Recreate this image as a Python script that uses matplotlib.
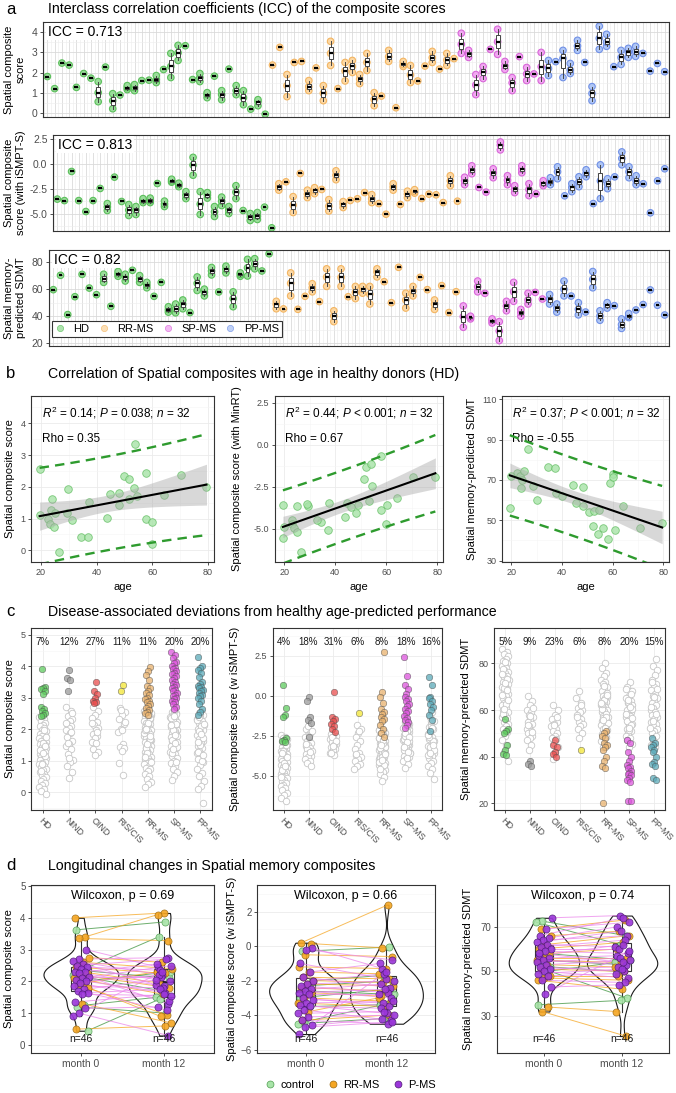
import numpy as np
import matplotlib
matplotlib.use("Agg")
import matplotlib.pyplot as plt
from matplotlib.ticker import MultipleLocator
from matplotlib.lines import Line2D
from matplotlib.transforms import blended_transform_factory

plt.rcParams['font.family'] = ['Liberation Sans', 'DejaVu Sans']
plt.rcParams['mathtext.fontset'] = 'custom'
plt.rcParams['mathtext.rm'] = 'Liberation Sans'
plt.rcParams['mathtext.it'] = 'Liberation Sans:italic'

# ======================= DATA =======================
# ---- panel a : repeated measurements per subject ([value] or [low, median, high])
a_groups = ['HD'] * 31 + ['RR-MS'] * 26 + ['SP-MS'] * 12 + ['PP-MS'] * 17
a_labels = ['HD', 'RR-MS', 'SP-MS', 'PP-MS']
a_icc = ['ICC = 0.713', 'ICC = 0.813', 'ICC = 0.82']
a_ylabels = ['Spatial composite\nscore', 'Spatial composite\nscore (with iSMPT-S)',
             'Spatial memory-\npredicted SDMT']
a1_scores = [[1.8], [1.2], [2.47], [2.37], [1.26], [1.95], [1.72], [0.55, 1.0, 1.55], [2.27],
             [0.2, 0.6, 0.95], [0.88], [1.15, 1.25, 1.35], [1.1, 1.25, 1.4], [1.6], [1.62],
             [1.5, 1.65, 1.85], [2.15], [1.75, 2.3, 2.95], [2.6, 2.98, 3.35], [3.33], [1.65],
             [1.55, 1.75, 1.95], [0.75, 0.9, 1.0], [1.82], [0.65, 0.9, 1.1], [2.17], [0.9, 1.1, 1.35],
             [0.4, 0.75, 1.1], [0.18], [0.35, 0.55, 0.65], [-0.07],
             [2.37], [3.25], [0.8, 1.35, 1.9], [2.5], [2.55], [1.1, 1.3, 1.6], [2.23], [0.6, 0.97, 1.35],
             [2.35, 2.95, 3.55], [1.2], [1.58, 2.08, 2.5], [2.0, 2.3, 2.6], [1.45, 1.68, 1.9],
             [2.1, 2.5, 2.95], [0.35, 0.66, 1.0], [0.83], [2.55, 2.79, 3.1], [0.25], [2.3, 2.4, 2.55],
             [1.5, 1.88, 2.35], [1.58], [2.32], [2.5, 2.74, 3.05], [2.17], [2.35, 2.62, 2.95], [2.69],
             [2.95, 3.4, 3.95], [2.75, 2.92, 3.1], [0.9, 1.38, 1.9], [1.7, 2.04, 2.3], [3.15],
             [2.9, 3.53, 4.15], [2.15, 2.34, 2.55], [1.1, 1.49, 1.75], [2.79], [1.6, 1.93, 2.25], [1.93],
             [1.6, 2.29, 3.0],
             [1.85, 2.2, 2.6], [2.54], [1.75, 2.7, 3.1], [1.95, 2.12, 2.45], [3.1, 3.32, 3.6], [2.5],
             [0.6, 0.96, 1.3], [3.15, 3.7, 4.3], [3.3, 3.5, 3.9], [2.29], [2.4, 2.75, 3.1],
             [2.75, 3.0, 3.2], [2.8, 3.04, 3.3], [2.95], [2.07], [2.45], [2.04]]
a2_scores = [[-3.55], [-3.7], [-0.77], [-3.7], [-4.8], [-3.7], [-2.48], [-4.7, -4.33, -4.0], [-1.34],
             [-3.79], [-5.2, -4.66, -4.1], [-5.1, -4.66, -4.3], [-3.9, -3.7, -3.5], [-3.9, -3.7, -3.45],
             [-1.98], [-4.3, -4.05, -3.75], [-1.85, -1.71, -1.55], [-2.3, -2.1, -1.95],
             [-3.5, -3.15, -2.8], [-1.15, -0.13, 0.65], [-5.1, -4.05, -2.8], [-3.45, -3.15, -2.9],
             [-5.3, -4.83, -4.3], [-4.2, -3.76, -3.35], [-5.0, -4.66, -4.3], [-3.5, -2.85, -2.2], [-4.7],
             [-5.7, -5.33, -5.0], [-5.6, -5.27, -4.9], [-4.36], [-6.44],
             [-2.65, -2.35, -2.0], [-1.81], [-4.9, -4.16, -3.3], [-0.97], [-3.4, -3.05, -2.65],
             [-3.0, -2.68, -2.4], [-2.58], [-4.75, -4.26, -3.6], [-1.6, -1.14, -0.7],
             [-4.4, -4.06, -3.8], [-3.69], [-3.52], [-2.89], [-3.9, -3.52, -3.1], [-4.0], [-5.07],
             [-2.65, -2.32, -2.0], [-4.09], [-3.4, -3.05, -2.75], [-2.95, -2.78, -2.6], [-3.49], [-3.05],
             [-3.12], [-3.9], [-2.2, -1.71, -1.2], [-3.76],
             [-2.1, -1.71, -1.35], [-1.0, -0.64, -0.2], [-2.38], [-2.85], [-1.4, -0.9, -0.5],
             [1.4, 1.88, 2.2], [-2.1, -1.65, -1.2], [-2.9, -2.52, -2.2], [-0.9, -0.57, -0.2],
             [-3.2, -2.58, -2.0], [-3.02], [-2.2, -1.98, -1.7],
             [-2.1, -1.81, -1.4], [-1.5, -0.8, -0.3], [-3.22], [-2.8, -2.38, -2.0], [-2.3, -1.81, -1.3],
             [-1.3, -0.97, -0.6], [-4.0], [-3.5, -1.71, -0.1], [-2.5, -2.05, -1.5], [-1.31],
             [-0.1, 0.54, 1.2], [-1.4, -0.8, -0.3], [-2.1, -1.71, -1.2], [-2.01], [-4.93], [-1.71], [-0.5]]
a3_scores = [[59.6], [70.2], [41.2], [54.4], [70.9], [60.8], [55.9], [65, 67.7, 71], [47.3],
             [69.5, 71.2, 73], [66, 68.7, 71], [73.9], [65, 67.5, 70], [61, 63, 65], [54.7], [65.0],
             [43, 44.9, 47], [42.5, 45.4, 49], [45.5, 48.8, 52], [42.7], [59, 64.3, 69], [55, 57.6, 60],
             [70.5, 73.4, 76], [57.9], [72, 74.6, 77], [47, 53, 58], [69.5, 70.9, 72], [69.7, 75.8, 82],
             [75, 78.8, 82.5], [73.4], [86.1],
             [45.5, 48.8, 51], [45.4], [55, 64.3, 72], [45.1], [54.7], [58, 61.1, 64], [50.8],
             [62, 68.9, 75], [36, 40.2, 44], [62, 68.7, 75], [54.4], [53, 57.6, 62], [57, 59.9, 62],
             [49, 56.2, 62], [69, 72.6, 75], [65.5], [50.0], [76.1], [46, 52, 57], [55, 58.6, 62],
             [68.7], [59.6], [45, 48.8, 52], [62.6], [42.7], [58.1],
             [31.8, 39.7, 47.6], [38, 39.2, 40], [58, 61.8, 66], [56.9], [35, 36.8, 38], [22, 29.1, 36],
             [44, 47.6, 51], [51, 58.1, 65], [40, 42.7, 45], [49, 52, 57], [57.6], [52.7],
             [49, 52.7, 56], [43, 45.9, 49], [55, 59.9, 66], [54.9], [41, 45.1, 50], [43.1],
             [61, 67.2, 73], [37, 40.2, 44], [46, 48.3, 50], [47.8], [31, 33.8, 38], [39, 40.0, 42],
             [44.6], [48.6], [59.4], [48.1], [40.9]]

# ---- panel b : healthy donors, age vs composite
b_age1 = [19.5, 53.8, 29.8, 23.9, 23.6, 25.2, 22.6, 23.1, 24.6, 29.3, 37.4, 43.9, 44.9, 48.0, 48.0, 49.8,
          51.7, 51.7, 53.6, 54.5, 57.9, 64.1, 57.9, 59.8, 70.5, 79.5, 34.2, 36.9, 26.5, 60.0, 19.8, 31.0]
b_val1 = [2.56, 3.34, 1.92, 1.63, 1.27, 1.18, 1.0, 0.82, 0.72, 1.18, 1.52, 1.03, 1.78, 1.80, 1.44, 2.34,
          2.23, 1.63, 1.97, 1.70, 2.42, 1.74, 0.98, 0.89, 2.37, 2.00, 0.43, 0.43, -0.05, 0.2, 1.1, 0.95]
b_age2 = [19.5, 29.3, 25.1, 28.8, 37.6, 22.9, 23.2, 23.9, 24.9, 19.5, 34.6, 37.2, 44.7, 49.1, 51.4, 54.5,
          51.9, 53.9, 58.1, 58.1, 60.1, 53.4, 43.8, 48.0, 59.8, 64.0, 70.3, 79.2, 26.5, 19.8, 33.0, 46.0]
b_val2 = [-3.61, -3.65, -3.65, -3.55, -3.45, -4.48, -4.74, -4.94, -5.2, -5.54, -4.6, -5.08, -3.45, -3.61,
          -2.02, -2.46, -1.31, -1.13, -0.67, -3.89, -3.61, -3.35, -4.29, -4.09, -4.74, -3.15, -1.9, -1.92,
          -6.4, -4.9, -4.5, -3.7]
b_age3 = [19.5, 22.2, 23.3, 24.2, 25.0, 23.8, 26.7, 28.8, 30.0, 34.5, 37.2, 37.8, 44.2, 45.5, 48.3, 48.3,
          50.5, 52.5, 54.7, 52.2, 54.2, 58.3, 58.8, 60.0, 60.0, 64.2, 70.8, 79.5, 19.8, 56.0, 61.0, 40.0]
b_val3 = [56.1, 73.3, 72.0, 70.0, 74.6, 65.9, 85.6, 67.0, 60.2, 76.6, 75.7, 63.4, 67.5, 58.5, 66.4, 56.9,
          54.0, 54.4, 55.0, 47.0, 43.0, 40.5, 68.4, 73.0, 71.6, 56.9, 46.2, 48.7, 72.0, 46.0, 45.0, 62.0]
b_stats = [r"$R^2$ = 0.14; $P$ = 0.038; $n$ = 32",
           r"$R^2$ = 0.44; $P$ < 0.001; $n$ = 32",
           r"$R^2$ = 0.37; $P$ < 0.001; $n$ = 32"]
b_rho = ['Rho = 0.35', 'Rho = 0.67', 'Rho = -0.55']
b_ylabels = ['Spatial composite score', 'Spatial composite score (with MinRT)',
             'Spatial memory-predicted SDMT']

# ---- panel c : groups, deviating (coloured) and within-norm (grey) values
c_groups = ['HD', 'NIND', 'OIND', 'RIS/CIS', 'RR-MS', 'SP-MS', 'PP-MS']
c1_pct = ['7%', '12%', '27%', '11%', '11%', '20%', '20%']
c2_pct = ['4%', '18%', '31%', '6%', '8%', '18%', '16%']
c3_pct = ['5%', '9%', '23%', '6%', '8%', '20%', '15%']
c_ylabels = ['Spatial composite score', 'Spatial composite score (w iSMPT-S)',
             'Spatial memory-predicted SDMT']
c1_dev = [[3.9, 3.35, 3.3, 3.27, 3.2, 3.12, 2.72, 2.65, 2.57, 2.5, 2.46, 2.42],
          [3.87, 3.62, 3.57, 3.2],
          [3.5, 3.2, 3.12, 2.98, 2.9, 2.86, 2.82],
          [3.4, 3.22],
          [3.97, 3.85, 3.72, 3.55, 3.38, 3.3, 3.22, 3.15, 3.08, 3.0, 2.95, 2.9, 2.85, 2.8, 2.74, 2.68,
           2.62, 2.55, 2.5, 2.45],
          [4.45, 4.35, 4.25, 4.15, 4.1, 4.02, 3.95, 3.9, 3.85, 3.8, 3.75, 3.7, 3.62, 3.55, 3.5, 3.45, 3.4,
           3.35, 3.3, 3.25, 3.2, 3.15, 3.1, 3.05, 3.0, 2.95, 2.9, 2.85, 2.8, 2.72, 2.65],
          [4.3, 4.0, 3.95, 3.88, 3.8, 3.65, 3.5, 3.45, 3.38, 3.33, 3.3, 3.25, 3.2, 3.15, 3.1, 3.05, 3.0,
           2.9, 2.8, 2.65, 2.55, 2.45]]
c1_ok = [[2.38, 2.31, 2.26, 2.2, 2.14, 2.1, 2.04, 1.99, 1.95, 1.9, 1.86, 1.81, 1.77, 1.72, 1.69, 1.64,
          1.6, 1.57, 1.53, 1.49, 1.45, 1.41, 1.37, 1.33, 1.29, 1.25, 1.21, 1.17, 1.13, 1.09, 1.05, 1.01,
          0.97, 0.93, 0.88, 0.84, 0.79, 0.74, 0.69, 0.64, 0.58, 0.53, 0.47, 0.42, 0.36, 0.3, 0.24, 0.17,
          0.1, 0.04, -0.05, 1.56, 1.34, 1.15, 0.9, 1.74, 1.98, 0.66, 1.46, 1.24],
         [2.7, 2.58, 2.42, 2.33, 2.26, 2.17, 2.11, 2.03, 1.96, 1.89, 1.74, 1.62, 1.53, 1.47, 1.36, 1.22,
          1.03, 0.96, 0.82, 0.64, 0.46, 2.21, 1.92, 1.57, 2.5, 1.1],
         [2.72, 2.57, 2.46, 2.36, 2.24, 2.12, 2.05, 1.97, 1.86, 1.8, 1.71, 1.6, 1.55, 1.36, 1.26, 1.19,
          2.2, 1.9],
         [2.66, 2.56, 2.44, 2.31, 2.16, 2.02, 1.9, 1.52, 1.45, 1.41, 1.3, 0.92, 0.54, 2.6, 2.22, 1.99],
         [2.6, 2.57, 2.53, 2.49, 2.45, 2.41, 2.38, 2.34, 2.3, 2.27, 2.23, 2.19, 2.16, 2.12, 2.08, 2.05,
          2.01, 1.97, 1.94, 1.9, 1.86, 1.83, 1.79, 1.75, 1.71, 1.67, 1.63, 1.59, 1.55, 1.51, 1.47, 1.43,
          1.39, 1.35, 1.3, 1.26, 1.22, 1.17, 1.13, 1.08, 1.04, 0.99, 0.94, 0.89, 0.84, 0.78, 0.72, 0.66,
          0.59, 0.51, 0.42, 0.33, 0.25, 0.16, 2.36, 2.14, 1.88, 1.62, 1.41, 2.5, 2.21, 1.96, 1.69, 1.24,
          0.97, 2.44, 2.02, 1.77, 1.53, 1.11],
         [2.6, 2.55, 2.5, 2.44, 2.39, 2.34, 2.29, 2.24, 2.19, 2.14, 2.09, 2.04, 1.99, 1.94, 1.89, 1.84,
          1.79, 1.74, 1.69, 1.63, 1.58, 1.52, 1.46, 1.4, 1.34, 1.28, 1.22, 1.15, 1.08, 1.0, 0.92, 0.83,
          0.74, 0.64, 0.52, 0.38, 2.47, 2.27, 2.07, 1.87, 1.67, 1.45, 2.57, 2.37, 2.17, 1.97, 1.77, 1.55,
          1.25, 0.95, 2.42, 2.12, 1.82, 1.36],
         [2.55, 2.5, 2.44, 2.38, 2.32, 2.26, 2.2, 2.14, 2.08, 2.02, 1.96, 1.9, 1.83, 1.76, 1.69, 1.62,
          1.55, 1.47, 1.39, 1.31, 1.23, 1.14, 1.05, 0.95, 0.85, 0.74, 0.62, 0.5, 0.35, 0.2, 0.1, -0.35,
          2.47, 2.29, 2.11, 1.93, 1.72, 1.5, 1.27, 0.98, 2.4, 2.17, 1.86, 1.58, 1.19]]
c2_dev = [[0.65, -0.75, -1.2, -1.35, -2.65, -2.75, -2.85, -2.9],
          [-0.05, -0.3, -1.3, -1.5, -1.7, -2.6],
          [0.25, -1.3, -1.45, -1.6, -1.75, -1.9, -2.05, -2.25],
          [-1.1],
          [2.75, 0.25, -0.1, -0.45, -0.8, -1.0, -1.15, -1.3, -1.45, -1.6, -1.8, -2.1, -2.3, -2.6],
          [2.4, 1.25, 0.7, 0.45, 0.1, -0.05, -0.2, -0.35, -0.5, -0.65, -0.8, -0.95, -1.1, -1.25, -1.4,
           -1.5, -1.65, -1.8, -2.0],
          [1.2, 0.7, -0.05, -0.15, -0.3, -0.5, -0.7, -0.9, -1.2, -1.5, -2.2]]
c2_ok = [[-2.45, -2.55, -2.62, -2.7, -2.78, -2.85, -2.93, -3.0, -3.08, -3.15, -3.22, -3.3, -3.37, -3.44,
          -3.5, -3.57, -3.63, -3.7, -3.76, -3.83, -3.9, -3.96, -4.03, -4.1, -4.17, -4.24, -4.31, -4.38,
          -4.45, -4.53, -4.6, -4.68, -4.76, -4.84, -4.92, -5.0, -5.08, -5.17, -5.26, -5.35, -5.45, -5.55,
          -5.66, -5.78, -5.9, -6.05, -6.2, -6.38, -6.6, -3.45, -3.8, -4.2, -4.65, -3.1, -2.9, -5.1, -4.4,
          -3.6],
         [-2.1, -2.3, -2.45, -2.6, -2.75, -2.85, -2.95, -3.05, -3.15, -3.25, -3.35, -3.45, -3.55, -3.65,
          -3.75, -3.85, -3.95, -4.05, -4.2, -4.4, -2.5, -3.0, -3.5, -1.9, -2.2],
         [-2.4, -2.5, -2.6, -2.7, -2.8, -2.9, -3.0, -3.1, -3.2, -3.3, -3.4, -3.55, -3.7, -2.55, -2.85,
          -3.15, -3.6],
         [-1.8, -2.05, -2.3, -2.6, -2.85, -3.1, -3.35, -3.55, -3.7, -3.8, -3.95, -4.1, -4.25, -4.4, -4.6,
          -2.2, -3.65],
         [-2.05, -2.12, -2.2, -2.27, -2.34, -2.4, -2.46, -2.52, -2.58, -2.64, -2.7, -2.76, -2.82, -2.88,
          -2.94, -3.0, -3.06, -3.12, -3.18, -3.24, -3.3, -3.36, -3.42, -3.48, -3.54, -3.6, -3.67, -3.74,
          -3.81, -3.88, -3.95, -4.02, -4.1, -4.18, -4.26, -4.35, -4.44, -4.54, -4.65, -4.77, -4.9, -5.05,
          -5.3, -2.15, -2.5, -2.85, -3.2, -3.5, -3.9, -4.3, -2.35, -2.65, -2.95, -3.25, -3.55, -3.85,
          -4.15, -2.75, -3.05, -3.65, -4.0, -4.6],
         [-1.55, -1.65, -1.75, -1.85, -1.95, -2.05, -2.15, -2.25, -2.35, -2.45, -2.55, -2.65, -2.75,
          -2.85, -2.95, -3.05, -3.15, -3.25, -3.35, -3.45, -3.55, -3.65, -3.75, -3.85, -3.95, -4.1,
          -4.25, -4.5, -2.1, -2.4, -2.7, -3.0, -3.3, -3.6, -2.2, -2.5, -2.8, -3.1, -3.4, -1.9, -2.3, -2.6,
          -2.9, -3.2, -3.5, -1.7, -2.0, -3.9],
         [-1.0, -1.3, -1.55, -1.75, -1.95, -2.1, -2.25, -2.4, -2.55, -2.7, -2.85, -3.0, -3.15, -3.3,
          -3.45, -3.6, -3.75, -3.9, -4.05, -4.2, -4.4, -4.6, -4.85, -5.2, -1.9, -2.3, -2.8, -3.2, -3.7,
          -2.0, -2.6, -3.4, -1.6, -2.45, -3.05, -3.55]]
c3_dev = [[56, 52, 51, 50, 45, 43, 41, 40.5],
          [38, 37, 36],
          [47, 45, 44, 42, 41, 40],
          [43],
          [51, 50, 49, 48, 46, 45, 44, 43, 40, 38, 36, 35, 20],
          [47, 46, 42, 40, 38, 36.5, 35.5, 35, 34, 33, 32.5, 32, 31, 30, 29, 21, 21],
          [48, 46, 45, 44, 43, 42, 40, 37.5, 37, 36, 31, 30]]
c3_ok = [[86, 85, 84, 83, 82, 81, 80, 79.5, 79, 78, 77, 76.5, 76, 75, 74.5, 74, 73, 72.5, 72, 71, 70.5,
          70, 69, 68, 67, 66, 65, 64, 63, 62, 61, 60, 59, 58, 57, 56.5, 55, 54, 53, 52, 50.5, 49, 47, 45,
          42, 38, 80.5, 77.5, 73.5, 69.5, 66.5, 62.5, 58.5, 64.5, 71.5, 75.5, 68.5, 60.5],
         [66, 64, 62, 60, 59, 58, 57, 56, 55, 54, 53, 52, 51, 50, 49, 48, 47, 45, 43, 61, 57.5, 53.5, 50.5],
         [62, 60, 58, 56, 55, 54, 53, 52, 51, 50, 49, 48, 47.5, 46, 44, 42, 39, 57, 53.5],
         [68, 65, 63, 61, 60, 59, 58, 56, 55, 54, 53, 52, 50, 48, 57, 62],
         [80, 78, 76, 74.5, 73, 72, 71, 70, 69, 68, 67, 66, 65.5, 65, 64, 63.5, 63, 62, 61.5, 61, 60, 59.5,
          59, 58, 57.5, 57, 56, 55.5, 55, 54, 53.5, 53, 52, 51.5, 50.5, 49.5, 48.5, 47.5, 46.5, 45, 44,
          67.5, 64.5, 60.5, 58.5, 56.5, 54.5, 52.5, 62.5, 66.5, 70.5, 63.2, 57.2, 55.8],
         [72, 70, 68, 66, 65, 64, 63, 62, 61, 60, 59, 58, 57, 56, 55, 54, 53, 52, 51, 50, 49, 48, 47, 45.5,
          44, 69, 67, 63.5, 60.5, 57.5, 55.5, 53.5, 51.5, 58.5, 61.5, 64.5, 56.5, 52.5],
         [82, 79, 77, 75, 73, 71, 70, 68.5, 67, 66, 65, 64, 63, 62, 61, 60, 59, 58, 57, 56, 55, 54, 53, 52,
          51, 50, 49, 47, 45, 44, 72, 69, 65.5, 61.5, 58.5, 55.5, 52.5]]

# ---- panel d : paired month 0 / month 12 values (46 patients)
d_groups = ['control'] * 8 + ['RR-MS'] * 14 + ['P-MS'] * 24
d_times = ['month 0', 'month 12']
d_pvals = ['Wilcoxon, p = 0.69', 'Wilcoxon, p = 0.66', 'Wilcoxon, p = 0.74']
d_ylabels = ['Spatial composite score', 'Spatial composite score (w iSMPT-S)',
             'Spatial memory-predicted SDMT']
d1_m0 = [3.62, 2.42, 2.35, 2.2, 1.25, 1.2, 0.45, 2.0,
         4.0, 3.4, 3.35, 2.75, 2.6, 2.45, 2.28, 2.2, 2.1, 1.95, 1.9, 1.8, 1.3, 0.5,
         3.0, 2.7, 2.65, 2.55, 2.5, 2.45, 2.4, 2.3, 2.3, 2.25, 2.15, 2.1, 2.05, 2.0, 1.95, 1.85, 1.75,
         1.7, 1.65, 1.6, 1.35, 1.15, 1.0, 0.9]
d1_m12 = [3.87, 3.4, 2.1, 1.7, 1.5, 1.0, 1.45, 2.3,
          4.15, 4.1, 3.28, 2.6, 2.4, 2.25, 1.95, 1.8, 1.6, 2.3, 0.95, 0.9, 0.7, 0.6,
          2.45, 2.75, 2.2, 1.9, 2.7, 2.35, 2.0, 1.85, 2.55, 1.3, 2.15, 2.5, 1.65, 2.2, 1.4, 1.8, 2.05,
          1.1, 1.75, 1.55, 1.6, 1.2, 0.3, 2.3]
d2_m0 = [-0.3, -2.0, -2.3, -3.0, -3.5, -4.4, -4.5, -2.6,
         0.2, 0.15, -0.5, -1.2, -1.5, -1.8, -2.0, -2.2, -2.4, -2.7, -3.0, -3.3, -3.8, -4.3,
         -0.1, -0.2, -1.0, -1.5, -1.8, -2.0, -2.2, -2.3, -2.5, -2.6, -2.7, -2.8, -3.0, -3.1, -3.3, -3.4,
         -3.5, -3.7, -3.9, -4.1, -4.3, -4.6, -4.7, -5.1]
d2_m12 = [-0.05, -1.7, -2.0, -2.5, -3.4, -3.3, -4.2, -2.8,
          2.4, -0.1, -0.6, -1.3, -1.6, -1.9, -2.1, -2.3, -2.6, -2.9, -3.2, -3.5, -3.0, -4.0,
          -1.3, -0.8, -1.9, -1.0, -2.4, -1.6, -2.0, -2.7, -2.2, -3.0, -2.5, -2.8, -3.5, -3.3, -3.2, -3.9,
          -3.6, -4.3, -3.8, -4.0, -4.5, -4.2, -4.4, -1.5]
d3_m0 = [72.5, 72, 58, 55, 52, 51, 35, 50,
         69, 66, 62, 60, 58, 56, 55, 53, 51, 48, 47, 46, 34, 32,
         74, 69, 66, 65, 64, 63, 62, 61, 60, 59, 57, 56, 55, 54, 53, 52, 51, 50, 49, 48, 46, 43, 40, 58]
d3_m12 = [66, 62, 55, 53, 50, 38, 37, 54,
          73, 68, 66, 63, 60, 56, 54, 52, 50, 48, 46, 42, 32, 21,
          75, 72, 74, 70, 66, 68, 61, 64, 60, 58, 62, 57, 53, 56, 55, 50, 52, 47, 51, 49, 45, 44, 59, 54]

# ======================= FIGURE =======================
W, H = 676, 1093
fig = plt.figure(figsize=(W / 100, H / 100), dpi=100)
fig.patch.set_facecolor('white')


def axes_px(x0, y0, x1, y1):
    return fig.add_axes([x0 / W, 1 - y1 / H, (x1 - x0) / W, (y1 - y0) / H])


def theme_bw(ax, fs=7, major='#EBEBEB', minor='#F5F5F5'):
    for s in ax.spines.values():
        s.set_color('#333333')
        s.set_linewidth(0.8)
    ax.tick_params(axis='both', which='major', colors='#333333', labelcolor='#4D4D4D',
                   labelsize=fs, length=2.5, width=0.6, pad=1.5)
    ax.tick_params(axis='both', which='minor', length=0)
    ax.set_axisbelow(True)
    ax.grid(True, which='major', color=major, lw=0.6, zorder=0)
    ax.grid(True, which='minor', color=minor, lw=0.4, zorder=0)


def ylabel_px(ax, text, xpx, fs):
    bb = ax.get_position()
    fig.text(xpx / W, bb.y0 + bb.height / 2, text, rotation=90, ha='center', va='center',
             fontsize=fs, color='black', multialignment='center')


def title_px(letter, text, ypx):
    fig.text(6 / W, 1 - ypx / H, letter, fontsize=12, ha='left', va='center')
    fig.text(48 / W, 1 - ypx / H, text, fontsize=10.2, ha='left', va='center')


def jitter(n, width, phase=0.0):
    k = np.arange(n)
    return (((k * 0.6180339887 + phase) % 1.0) - 0.5) * 2 * width


# ---------------- panel a ----------------
title_px('a', 'Interclass correlation coefficients (ICC) of the composite scores', 9)
a_face = {'HD': '#9ADD9A', 'RR-MS': '#FCD8A4', 'SP-MS': '#F1A8F1', 'PP-MS': '#AFC6F5'}
a_edge = {'HD': '#5BBF5B', 'RR-MS': '#F3B562', 'SP-MS': '#D866D8', 'PP-MS': '#7090E6'}
a_rows = [(a1_scores, (43, 22, 669, 117), (-0.21, 4.51), [0, 1, 2, 3, 4], ['0', '1', '2', '3', '4'], 0.5),
          (a2_scores, (53, 135, 669, 231), (-6.76, 2.9), [-5, -2.5, 0, 2.5], ['-5.0', '-2.5', '0.0', '2.5'], 1.25),
          (a3_scores, (49, 250, 669, 346), (18.0, 88.9), [20, 40, 60, 80], ['20', '40', '60', '80'], 10)]
n_sub = len(a_groups)
pos = np.arange(1, n_sub + 1)
for r, (scores, box, ylim, yt, ytl, ymin_step) in enumerate(a_rows):
    ax = axes_px(*box)
    theme_bw(ax, fs=7.5, major='#DADADA', minor='#EDEDED')
    xs, ys, fc, ec = [], [], [], []
    for i, (vals, g) in enumerate(zip(scores, a_groups)):
        for v in vals:
            xs.append(i + 1)
            ys.append(v)
            fc.append(a_face[g])
            ec.append(a_edge[g])
    ax.scatter(xs, ys, s=22, c=fc, edgecolors=ec, linewidths=0.8, zorder=2)
    ax.boxplot(scores, positions=pos, widths=0.55, whis=(0, 100), showfliers=False, showcaps=False,
               patch_artist=True, manage_ticks=False, zorder=3,
               boxprops=dict(facecolor='white', edgecolor='#444444', lw=0.7),
               whiskerprops=dict(color='#444444', lw=0.7),
               medianprops=dict(color='black', lw=1.6, solid_capstyle='butt'))
    ax.set_xlim(0.4, n_sub + 0.6)
    ax.set_ylim(*ylim)
    ax.set_xticks(pos)
    ax.set_xticks(np.arange(0.5, n_sub + 1, 1.0), minor=True)
    ax.tick_params(axis='x', which='both', length=0, labelbottom=False)
    ax.set_yticks(yt)
    ax.set_yticklabels(ytl)
    ax.yaxis.set_minor_locator(MultipleLocator(ymin_step))
    ax.text(0.008, 0.9, a_icc[r], transform=ax.transAxes, ha='left', va='center', fontsize=10,
            zorder=6, bbox=dict(facecolor='white', edgecolor='none', pad=1.2))
    ylabel_px(ax, a_ylabels[r], 15, 8)
    if r == 2:
        handles = [Line2D([], [], marker='o', ls='none', markersize=4.5, markerfacecolor=a_face[g],
                          markeredgecolor=a_edge[g], markeredgewidth=0.5, alpha=0.8) for g in a_labels]
        leg = ax.legend(handles, a_labels, ncol=4, loc='lower left', bbox_to_anchor=(0.005, 0.09),
                        borderaxespad=0, fontsize=8, frameon=True, fancybox=False, framealpha=1,
                        handletextpad=0.8, columnspacing=0.9, handlelength=0.8, borderpad=0.3)
        leg.get_frame().set_edgecolor('#333333')
        leg.get_frame().set_linewidth(0.8)
        leg.set_zorder(7)

# ---------------- panel b ----------------
title_px('b', 'Correlation of Spatial composites with age in healthy donors (HD)', 374)
b_sets = [(b_age1, b_val1, (31, 214), (-0.37, 4.86), [0, 1, 2, 3, 4], ['0', '1', '2', '3', '4'], 0.5, 10),
          (b_age2, b_val2, (275, 443), (-6.98, 2.9), [-5, -2.5, 0, 2.5], ['-5.0', '-2.5', '0.0', '2.5'], 1.25, 237),
          (b_age3, b_val3, (502, 669), (29.3, 111.65), [30, 50, 70, 90, 110], ['30', '50', '70', '90', '110'], 10, 472)]
t_crit = 2.042  # t(0.975, df = 30)
for k, (age, val, (x0, x1), ylim, yt, ytl, ymin_step, ylx) in enumerate(b_sets):
    ax = axes_px(x0, 396, x1, 562)
    theme_bw(ax, fs=6.5)
    x = np.asarray(age, float)
    y = np.asarray(val, float)
    n = len(x)
    slope, icpt = np.polyfit(x, y, 1)
    s = np.sqrt(np.sum((y - (icpt + slope * x)) ** 2) / (n - 2))
    xm = x.mean()
    sxx = np.sum((x - xm) ** 2)
    xs = np.linspace(x.min(), x.max(), 120)
    fit = icpt + slope * xs
    se_f = s * np.sqrt(1 / n + (xs - xm) ** 2 / sxx)
    se_p = s * np.sqrt(1 + 1 / n + (xs - xm) ** 2 / sxx)
    ax.scatter(x, y, s=30, facecolor='#A6E3A6', edgecolor='#62BD62', linewidths=0.6, alpha=0.8, zorder=2)
    ax.fill_between(xs, fit - t_crit * se_f, fit + t_crit * se_f, color='#A9A9A9', alpha=0.45, lw=0, zorder=3)
    ax.plot(xs, fit, color='black', lw=1.5, zorder=4)
    for sign in (-1, 1):
        ax.plot(xs, fit + sign * t_crit * se_p, color='#2E9B2E', lw=1.7, dashes=(4, 2.6), zorder=4)
    ax.set_xlim(16.4, 82.2)
    ax.set_ylim(*ylim)
    ax.set_xticks([20, 40, 60, 80])
    ax.xaxis.set_minor_locator(MultipleLocator(10))
    ax.set_yticks(yt)
    ax.set_yticklabels(ytl)
    ax.yaxis.set_minor_locator(MultipleLocator(ymin_step))
    ax.set_xlabel('age', fontsize=8, labelpad=4)
    ax.text(0.06, 0.9, b_stats[k], transform=ax.transAxes, fontsize=8.5, ha='left', va='center')
    ax.text(0.06, 0.74, b_rho[k], transform=ax.transAxes, fontsize=8.5, ha='left', va='center')
    ylabel_px(ax, b_ylabels[k], ylx, 8)

# ---------------- panel c ----------------
title_px('c', 'Disease-associated deviations from healthy age-predicted performance', 612)
c_cols = ['#5FCB5F', '#9A9A9A', '#EA4F4F', '#F3E634', '#E9B26E', '#DD55DD', '#5BAAB9']
c_sets = [(c1_dev, c1_ok, c1_pct, (31, 212), (-0.57, 5.22), [0, 1, 2, 3, 4, 5], [str(v) for v in range(6)], 0.5, 10),
          (c2_dev, c2_ok, c2_pct, (273, 442), (-7.14, 4.23), [-5, -2.5, 0, 2.5], ['-5.0', '-2.5', '0.0', '2.5'], 1.25, 235),
          (c3_dev, c3_ok, c3_pct, (494, 665), (17.1, 95.2), [20, 40, 60, 80], ['20', '40', '60', '80'], 10, 466)]
for k, (dev, ok, pct, (x0, x1), ylim, yt, ytl, ymin_step, ylx) in enumerate(c_sets):
    ax = axes_px(x0, 628, x1, 810)
    theme_bw(ax, fs=6.5)
    for gi in range(len(c_groups)):
        okv = np.asarray(ok[gi], float)
        dv = np.asarray(dev[gi], float)
        ax.scatter(gi + 1 + jitter(len(okv), 0.14, 0.11 * gi + 0.05 * k), okv, s=22, facecolor='white',
                   edgecolor='#C6C6C6', linewidths=0.6, zorder=2)
        ax.scatter(gi + 1 + jitter(len(dv), 0.1, 0.37 + 0.13 * gi), dv, s=22, facecolor=c_cols[gi],
                   edgecolor='#4D4D4D', linewidths=0.4, alpha=0.75, zorder=3)
    trans = blended_transform_factory(ax.transData, ax.transAxes)
    for gi, p in enumerate(pct):
        ax.text(gi + 1, 0.925, p, transform=trans, ha='center', va='center', fontsize=7, color='#1A1A1A')
    ax.set_xlim(0.55, 7.45)
    ax.set_ylim(*ylim)
    ax.set_xticks(np.arange(1, 8))
    ax.set_xticklabels(c_groups, rotation=-45, ha='left', va='top', rotation_mode='anchor', fontsize=6.5)
    ax.set_yticks(yt)
    ax.set_yticklabels(ytl)
    ax.yaxis.set_minor_locator(MultipleLocator(ymin_step))
    ylabel_px(ax, c_ylabels[k], ylx, 8)

# ---------------- panel d ----------------
title_px('d', 'Longitudinal changes in Spatial memory composites', 866)
d_face = {'control': '#A8E4A8', 'RR-MS': '#F5A623', 'P-MS': '#9B36DA'}
d_edge = {'control': '#4F9D4F', 'RR-MS': '#9C6A12', 'P-MS': '#4E1C72'}
d_line = {'control': '#3E943E', 'RR-MS': '#F5A623', 'P-MS': '#EB86EB'}
d_sets = [(d1_m0, d1_m12, (31, 214), (-0.25, 5.03), [0, 1, 2, 3, 4, 5], 0.5, 9),
          (d2_m0, d2_m12, (257, 435), (-6.2, 3.55), [-6, -4, -2, 0, 2], 1, 232),
          (d3_m0, d3_m12, (497, 669), (13.4, 88.7), [30, 50, 70], 10, 468)]


def nrd0_factor(v):
    v = np.asarray(v, float)
    sd = v.std(ddof=1)
    iqr = np.subtract(*np.percentile(v, [75, 25]))
    bw = 0.9 * min(sd, iqr / 1.34) * len(v) ** (-0.2)
    return bw / sd


for k, (m0, m12, (x0, x1), ylim, yt, ymin_step, ylx) in enumerate(d_sets):
    ax = axes_px(x0, 885, x1, 1053)
    theme_bw(ax, fs=7)
    ax.xaxis.grid(False, which='both')
    m0 = np.asarray(m0, float)
    m12 = np.asarray(m12, float)
    for p, data in ((1, m0), (2, m12)):
        vp = ax.violinplot([data], positions=[p], widths=0.9, showextrema=False,
                           bw_method=nrd0_factor(data))
        for b in vp['bodies']:
            b.set_facecolor('white')
            b.set_edgecolor('#1A1A1A')
            b.set_alpha(1)
            b.set_linewidth(0.8)
            b.set_zorder(1)
    ax.boxplot([m0, m12], positions=[1, 2], widths=0.24, showfliers=False, patch_artist=True,
               manage_ticks=False, zorder=2,
               boxprops=dict(facecolor='none', edgecolor='#333333', lw=0.8),
               whiskerprops=dict(color='#333333', lw=0.8), capprops=dict(lw=0),
               medianprops=dict(color='#1A1A1A', lw=1.5))
    j0 = 1 + jitter(len(m0), 0.1, 0.2 + 0.1 * k)
    j1 = 2 + jitter(len(m12), 0.1, 0.55 + 0.1 * k)
    for i, g in enumerate(d_groups):
        ax.plot([j0[i], j1[i]], [m0[i], m12[i]], color=d_line[g], lw=0.7, alpha=0.75, zorder=3)
    for i, g in enumerate(d_groups):
        for xx, yy in ((j0[i], m0[i]), (j1[i], m12[i])):
            ax.scatter(xx, yy, s=26, facecolor=d_face[g], edgecolor=d_edge[g], linewidths=0.5,
                       alpha=0.9, zorder=4)
    ax.set_xlim(0.4, 2.6)
    ax.set_ylim(*ylim)
    ax.set_xticks([1, 2])
    ax.set_xticklabels(d_times, fontsize=7.5)
    ax.set_yticks(yt)
    ax.yaxis.set_minor_locator(MultipleLocator(ymin_step))
    ax.text(0.5, 0.935, d_pvals[k], transform=ax.transAxes, ha='center', va='center', fontsize=9)
    trans = blended_transform_factory(ax.transData, ax.transAxes)
    for p in (1, 2):
        ax.text(p, 0.085, 'n=%d' % len(m0), transform=trans, ha='center', va='center', fontsize=7.5,
                color='#1A1A1A', zorder=6)
    ylabel_px(ax, d_ylabels[k], ylx, 8)

d_handles = [Line2D([], [], marker='o', ls='none', markersize=5, markerfacecolor=d_face[g],
                    markeredgecolor=d_edge[g], markeredgewidth=0.5) for g in ['control', 'RR-MS', 'P-MS']]
fig.legend(d_handles, ['control', 'RR-MS', 'P-MS'], ncol=3, loc='center', bbox_to_anchor=(350 / W, 1 - 1085 / H),
           frameon=False, fontsize=8, handletextpad=0.4, columnspacing=1.2, handlelength=1.0)

fig.savefig('out.png', dpi=100, facecolor='white')
